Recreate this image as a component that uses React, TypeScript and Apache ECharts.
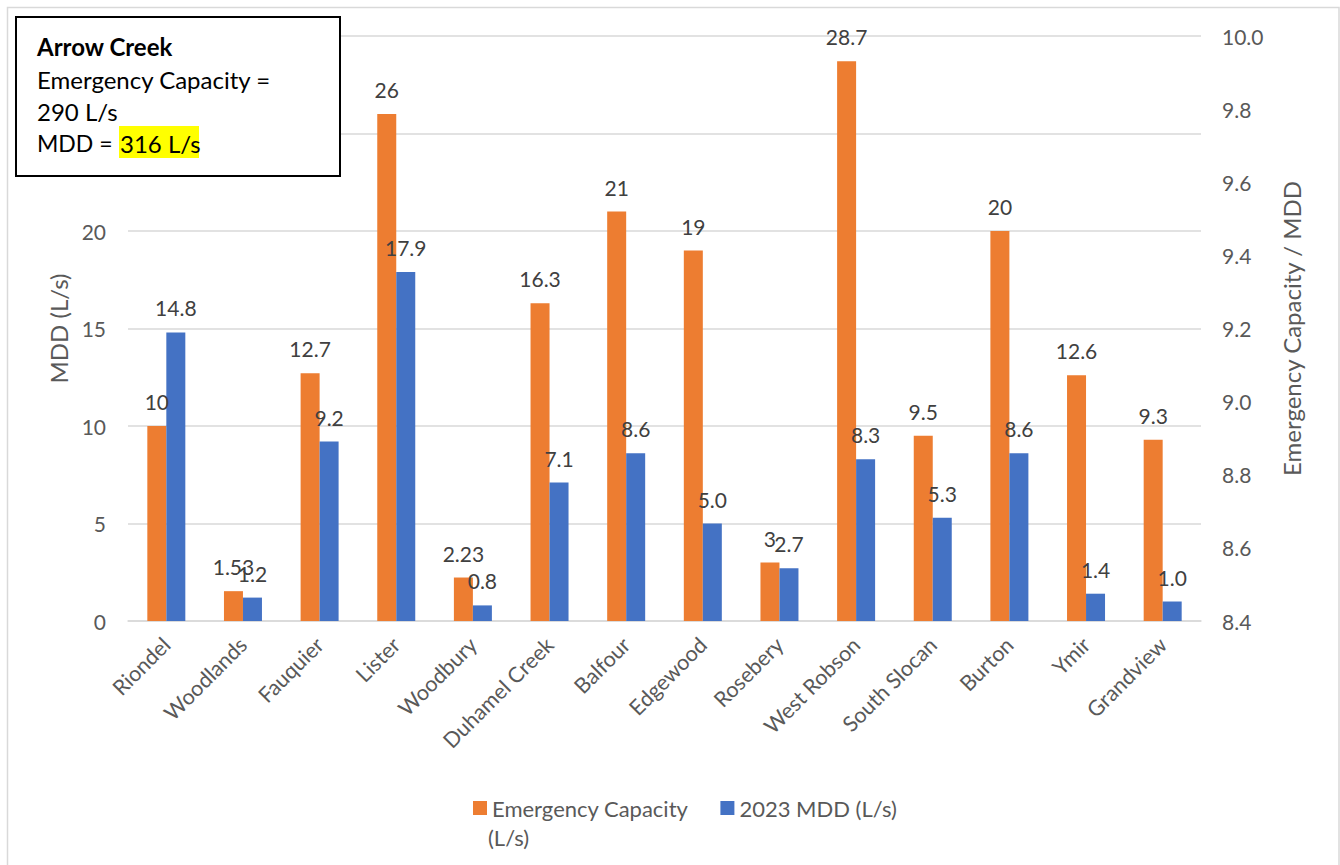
import React, { useEffect, useRef } from "react";
import * as echarts from "echarts";

const categories = [
  "Riondel", "Woodlands", "Fauquier", "Lister", "Woodbury", "Duhamel Creek", "Balfour",
  "Edgewood", "Rosebery", "West Robson", "South Slocan", "Burton", "Ymir", "Grandview",
];
const emergencyCapacity = [10, 1.53, 12.7, 26, 2.23, 16.3, 21, 19, 3, 28.7, 9.5, 20, 12.6, 9.3];
const mdd2023 = [14.8, 1.2, 9.2, 17.9, 0.8, 7.1, 8.6, 5.0, 2.7, 8.3, 5.3, 8.6, 1.4, 1.0];
const leftAxisRange = [0, 30, 5];
const rightAxisRange = [8.4, 10.0, 0.2];
const seriesNames = ["Emergency Capacity (L/s)", "2023 MDD (L/s)"];
const boxLines = ["Arrow Creek", "Emergency Capacity =", "290 L/s", "MDD =", "316 L/s"];

const FONT = "Lato, 'Liberation Sans', sans-serif";
const GRAY = "#595959";

export default function App() {
  const ref = useRef<HTMLDivElement>(null);
  useEffect(() => {
    if (!ref.current) return;
    const chart = echarts.init(ref.current, null, { renderer: "svg" });
    const option: any = {
      animation: false,
      backgroundColor: "#ffffff",
      textStyle: { fontFamily: FONT },
      grid: { left: 128, right: 139, top: 36, bottom: 244, containLabel: false },
      legend: {
        left: 468,
        top: 792,
        itemWidth: 14,
        itemHeight: 14,
        itemGap: 32,
        icon: "rect",
        data: seriesNames,
        formatter: (n: string) => (n === seriesNames[0] ? "Emergency Capacity" : n),
        textStyle: { fontSize: 22, color: GRAY, fontFamily: FONT },
      },
      xAxis: {
        type: "category",
        data: categories,
        axisLine: { lineStyle: { color: "#D9D9D9", width: 1.5 } },
        axisTick: { show: false },
        axisLabel: { rotate: 45, interval: 0, fontSize: 21.5, color: GRAY, margin: 20, fontFamily: FONT },
      },
      yAxis: [
        {
          type: "value",
          min: leftAxisRange[0],
          max: leftAxisRange[1],
          interval: leftAxisRange[2],
          name: "MDD (L/s)",
          nameLocation: "middle",
          nameRotate: 90,
          nameGap: 57,
          nameTextStyle: { fontSize: 24, color: GRAY, fontFamily: FONT },
          axisLine: { show: false },
          axisTick: { show: false },
          axisLabel: { fontSize: 21, color: GRAY, margin: 22, fontFamily: FONT },
          splitLine: { lineStyle: { color: "#D9D9D9", width: 1.5 } },
        },
        {
          type: "value",
          position: "right",
          min: rightAxisRange[0],
          max: rightAxisRange[1],
          interval: rightAxisRange[2],
          name: "Emergency Capacity / MDD",
          nameLocation: "middle",
          nameRotate: 90,
          nameGap: 78,
          nameTextStyle: { fontSize: 24, color: GRAY, fontFamily: FONT },
          axisLine: { show: false },
          axisTick: { show: false },
          splitLine: { show: false },
          axisLabel: {
            fontSize: 21,
            color: GRAY,
            margin: 21,
            fontFamily: FONT,
            formatter: (v: number) => v.toFixed(1),
          },
        },
      ],
      series: [
        {
          name: seriesNames[0],
          type: "bar",
          yAxisIndex: 0,
          data: emergencyCapacity,
          barWidth: 19,
          barGap: "0%",
          itemStyle: { color: "#ED7D31" },
          label: {
            show: true,
            position: "top",
            distance: 14,
            fontSize: 21,
            color: "#404040",
            fontFamily: FONT,
            formatter: (p: any) => String(p.value),
          },
        },
        {
          name: seriesNames[1],
          type: "bar",
          yAxisIndex: 0,
          data: mdd2023,
          barWidth: 19,
          barGap: "0%",
          itemStyle: { color: "#4472C4" },
          label: {
            show: true,
            position: "top",
            distance: 14,
            fontSize: 21,
            color: "#404040",
            fontFamily: FONT,
            formatter: (p: any) => Number(p.value).toFixed(1),
          },
        },
      ],
      graphic: [
        {
          type: "polyline",
          z: 0,
          silent: true,
          shape: { points: [[7.5, 865], [7.5, 7.5], [1339, 7.5], [1339, 865]] },
          style: { fill: "none", stroke: "#D9D9D9", lineWidth: 1.5 },
        },
        {
          type: "text",
          x: 488,
          y: 837,
          z: 100,
          style: { text: "(L/s)", fontSize: 22, fill: GRAY, fontFamily: FONT, verticalAlign: "middle" },
        },
        {
          type: "group",
          z: 100,
          children: [
            {
              type: "rect",
              z: 100,
              shape: { x: 16, y: 17, width: 324, height: 159 },
              style: { fill: "#ffffff", stroke: "#000000", lineWidth: 2 },
            },
            {
              type: "rect",
              z: 101,
              shape: { x: 119, y: 126, width: 80, height: 32 },
              style: { fill: "#FFFF00" },
            },
            {
              type: "text",
              z: 102,
              x: 37,
              y: 46,
              style: { text: boxLines[0], fontSize: 24, fontWeight: "bold", fill: "#000", fontFamily: FONT, verticalAlign: "middle" },
            },
            {
              type: "text",
              z: 102,
              x: 37,
              y: 79,
              style: { text: boxLines[1], fontSize: 24, fill: "#000", fontFamily: FONT, verticalAlign: "middle" },
            },
            {
              type: "text",
              z: 102,
              x: 37,
              y: 111,
              style: { text: boxLines[2], fontSize: 24, fill: "#000", fontFamily: FONT, verticalAlign: "middle" },
            },
            {
              type: "text",
              z: 102,
              x: 37,
              y: 143,
              style: { text: boxLines[3], fontSize: 23, fill: "#000", fontFamily: FONT, verticalAlign: "middle" },
            },
            {
              type: "text",
              z: 102,
              x: 120,
              y: 143,
              style: { text: boxLines[4], fontSize: 24, fill: "#000", fontFamily: FONT, verticalAlign: "middle" },
            },
          ],
        },
      ],
    };
    chart.setOption(option);
    return () => chart.dispose();
  }, []);
  return (
    <div
      ref={ref}
      style={{ position: "fixed", left: 0, top: 0, width: 1340, height: 865, background: "#fff" }}
    />
  );
}
